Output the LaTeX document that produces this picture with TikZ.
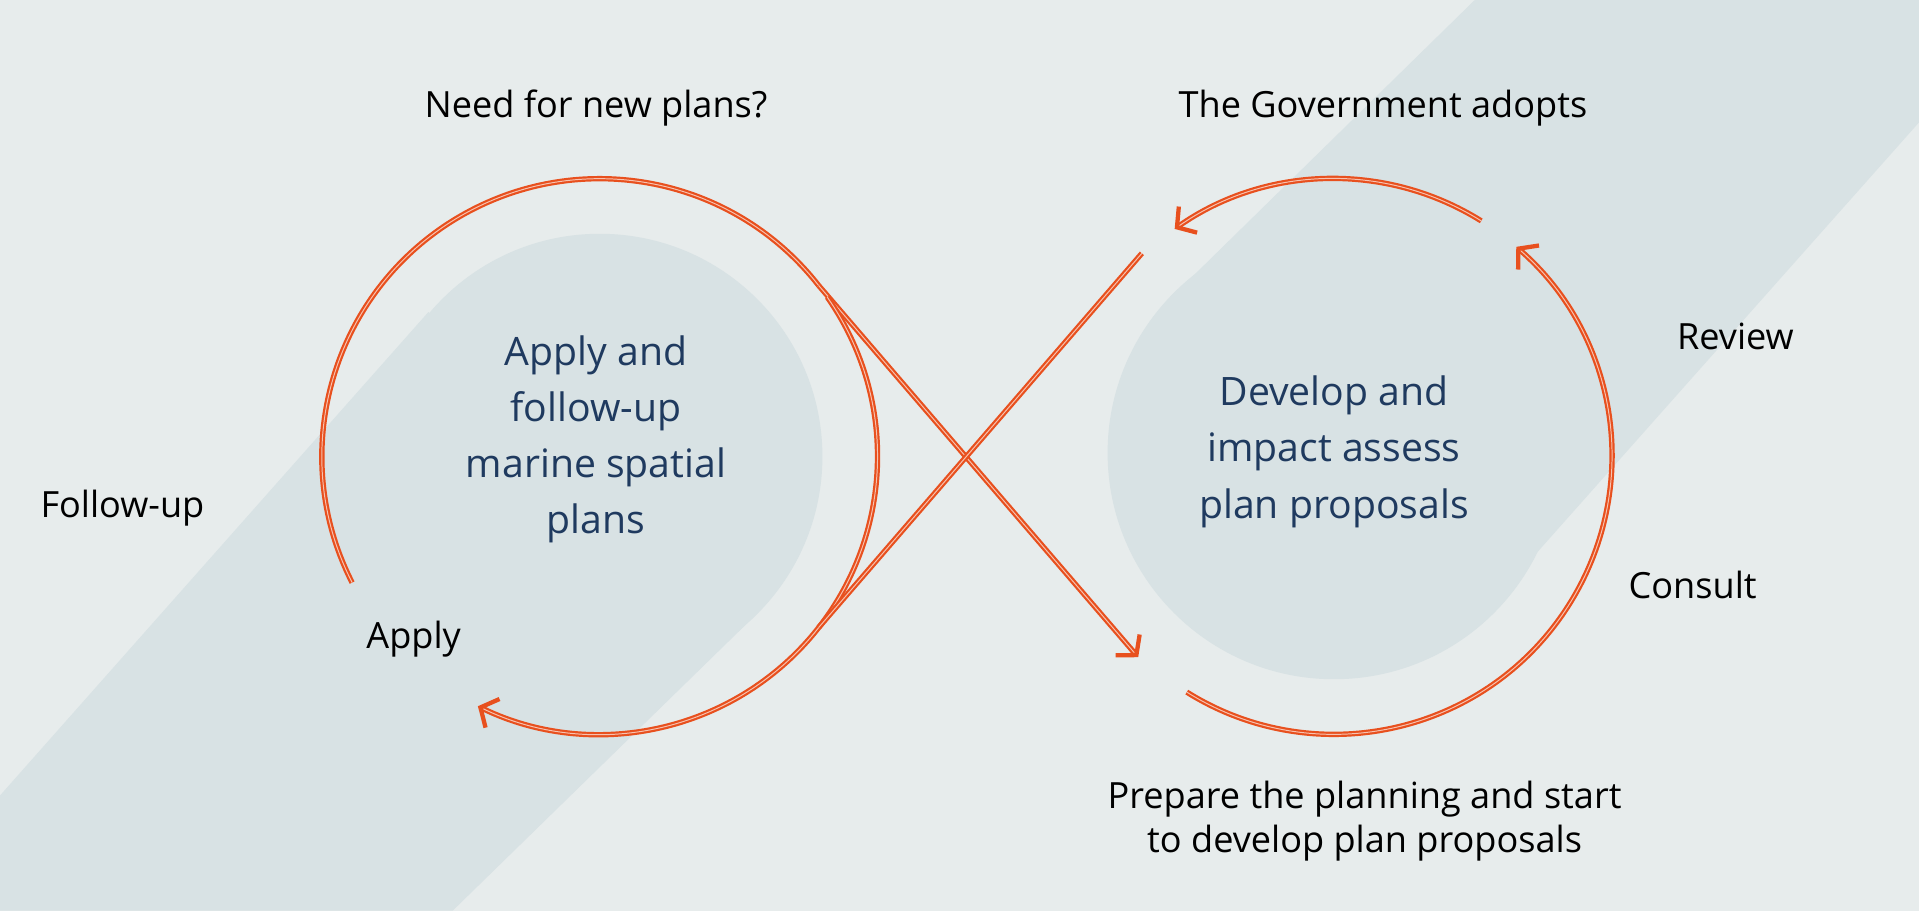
\documentclass[tikz,border=0pt]{standalone}
\usepackage{fontspec}
\setmainfont{Open Sans}
\usetikzlibrary{arrows.meta}
\definecolor{bg}{HTML}{E7ECEC}
\definecolor{band}{HTML}{D8E2E4}
\definecolor{org}{HTML}{E8501E}
\definecolor{navy}{HTML}{1F3A5F}
\begin{document}
\begin{tikzpicture}[x=1pt,y=-1pt,
  loop/.style={draw=org,line width=1.8pt,double=org!35!white,double distance=0.8pt},
  tip/.style={-{Straight Barb[length=11pt,width=26pt,line width=3.5pt]}},
  lbl/.style={font=\fontsize{29.5}{36}\selectfont,text=black,align=center},
  ctr/.style={font=\fontsize{32}{46}\selectfont,text=navy,align=center}]
\fill[bg] (0,0) rectangle (1568,744);
\useasboundingbox (0,0) rectangle (1568,744);
\fill[band] (1205,0) -- (1568,0) -- (1568,100) -- (1195,520) -- (1090,370) -- (960,240) -- cycle;
\fill[band] (0,650) -- (350,255) -- (490,370) -- (620,500) -- (370,744) -- (0,744) -- cycle;
\fill[band] (490,373) circle (182);
\fill[band] (1090,370) circle (185);
% left loop
\coordinate (LC) at (490,373);
\coordinate (RC) at (1090,373);
\path (LC) ++(38:227 and -227) coordinate (A1);
\path (LC) ++(-38:227 and -227) coordinate (B1);
\coordinate (X1) at (930,537);
\coordinate (X2) at (933,207);
\draw[loop] (LC) ++(207:227 and -227) arc[start angle=207,end angle=38,x radius=227,y radius=-227];
\draw[loop,tip] (A1) -- (X1);
\draw[loop,tip] (LC) ++(35:227 and -227) arc[start angle=35,end angle=-116,x radius=227,y radius=-227];
\draw[loop] (B1) -- (X2);
% right loop
\draw[loop,tip] (RC) ++(58:227 and -227) arc[start angle=58,end angle=125,x radius=227,y radius=-227];
\draw[loop,tip] (RC) ++(-122:227 and -227) arc[start angle=-122,end angle=49,x radius=227,y radius=-227];
% labels
\node[lbl] (n1) at (487,88) {Need for new plans?};
\node[lbl] (n2) at (1130,88) {The Government adopts};
\node[lbl] (n3) at (1418,275) {Review};
\node[lbl] (n4) at (1383,478) {Consult};
\node[lbl] (n5) at (100,415) {Follow-up};
\node[lbl] (n6) at (338,522) {Apply};
\node[lbl] (n7) at (1115,671) {Prepare the planning and start\\to develop plan proposals};
\node[ctr] (c1) at (487,359) {Apply and\\follow-up\\marine spatial\\plans};
\node[ctr] (c2) at (1090,369) {Develop and\\impact assess\\plan proposals};
\end{tikzpicture}
\end{document}
